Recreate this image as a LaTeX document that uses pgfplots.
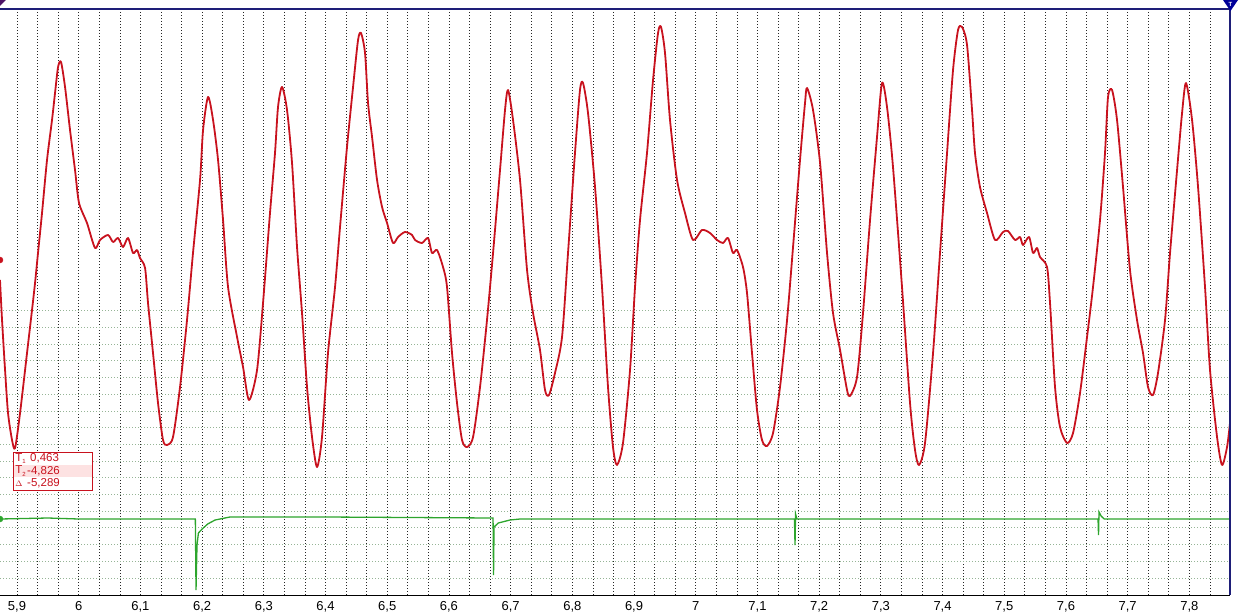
\documentclass[border=0pt]{standalone}
\usepackage{pgfplots}
\pgfplotsset{compat=1.18}
\usepackage{pgfplotstable}
\usepackage{fontspec}
\setmainfont{Liberation Sans}

\definecolor{tracered}{RGB}{200,18,30}
\definecolor{tracegreen}{RGB}{45,165,45}
\definecolor{framenavy}{RGB}{30,30,120}
\definecolor{hgrid}{RGB}{150,180,150}
\definecolor{rowpink}{RGB}{253,226,226}

% red channel: time, screen row (y axis reversed)
\pgfplotstableread{
x y
5.8724 280
5.8757 320
5.8806 370
5.8854 413
5.8919 440
5.8968 448
5.9049 413
5.9162 353
5.9243 310
5.9292 283
5.9340 253
5.9405 213
5.9486 160
5.9567 120
5.9616 93
5.9665 67
5.9713 62
5.9778 87
5.9859 130
5.9940 170
6.0005 203
6.0134 223
6.0264 248
6.0345 240
6.0475 235
6.0556 242
6.0637 238
6.0718 247
6.0799 238
6.0880 253
6.0945 250
6.0993 258
6.1075 268
6.1123 303
6.1204 353
6.1285 403
6.1366 440
6.1431 445
6.1528 437
6.1642 387
6.1755 320
6.1852 253
6.1966 180
6.2015 130
6.2096 97
6.2177 120
6.2258 160
6.2339 220
6.2420 287
6.2566 337
6.2663 367
6.2760 400
6.2890 370
6.2987 303
6.3100 213
6.3181 153
6.3230 107
6.3295 87
6.3376 110
6.3457 163
6.3538 247
6.3619 313
6.3700 387
6.3781 437
6.3862 467
6.3943 437
6.4040 353
6.4154 287
6.4235 227
6.4348 147
6.4446 87
6.4527 40
6.4575 33
6.4640 53
6.4689 103
6.4754 137
6.4835 180
6.4916 207
6.4997 223
6.5094 243
6.5175 237
6.5288 232
6.5402 235
6.5450 240
6.5564 243
6.5661 238
6.5726 253
6.5807 250
6.5904 267
6.5969 287
6.6050 353
6.6131 403
6.6212 440
6.6293 447
6.6391 437
6.6504 387
6.6617 320
6.6715 253
6.6828 170
6.6909 110
6.6958 90
6.7039 120
6.7152 180
6.7266 270
6.7363 313
6.7476 350
6.7557 390
6.7622 395
6.7719 373
6.7833 337
6.7930 253
6.8043 153
6.8124 90
6.8173 83
6.8254 113
6.8368 187
6.8481 287
6.8578 387
6.8659 447
6.8724 465
6.8821 443
6.8935 370
6.9016 287
6.9097 220
6.9210 153
6.9308 80
6.9389 33
6.9437 27
6.9502 53
6.9583 120
6.9697 180
6.9826 213
6.9956 240
7.0102 230
7.0231 233
7.0345 240
7.0442 243
7.0523 238
7.0604 253
7.0669 250
7.0766 267
7.0831 293
7.0912 353
7.0993 410
7.1074 440
7.1155 446
7.1253 433
7.1366 387
7.1480 320
7.1577 247
7.1690 160
7.1771 103
7.1804 88
7.1901 110
7.2015 163
7.2128 253
7.2225 313
7.2339 350
7.2452 390
7.2501 396
7.2614 377
7.2711 313
7.2825 220
7.2938 137
7.3019 83
7.3100 107
7.3197 167
7.3343 287
7.3473 403
7.3554 450
7.3619 465
7.3716 443
7.3846 353
7.3959 253
7.4073 153
7.4170 70
7.4251 30
7.4316 27
7.4397 45
7.4478 110
7.4526 153
7.4607 187
7.4721 213
7.4851 240
7.4980 232
7.5061 231
7.5175 240
7.5256 237
7.5305 245
7.5402 237
7.5467 253
7.5531 248
7.5580 257
7.5693 267
7.5742 303
7.5823 387
7.5904 427
7.6018 443
7.6115 433
7.6228 393
7.6342 337
7.6439 287
7.6552 220
7.6633 153
7.6682 97
7.6747 90
7.6828 120
7.6925 187
7.7038 270
7.7152 320
7.7249 353
7.7330 387
7.7411 395
7.7492 373
7.7606 320
7.7687 253
7.7801 170
7.7882 113
7.7946 83
7.8044 120
7.8141 187
7.8254 287
7.8335 370
7.8449 437
7.8530 465
7.8611 447
7.8659 423
}\redtrace

% green channel
\pgfplotstableread{
x y
5.8724 519
5.9500 518
6.0000 519
6.0700 519
6.1890 519
6.1901 590
6.1917 545
6.1940 533
6.2000 529
6.2090 524
6.2210 520
6.2450 517
6.4000 517
6.6700 518
6.6715 518
6.6723 575
6.6731 527
6.6800 523
6.6990 520
6.7152 519
7.1600 519
7.1609 545
7.1618 514
7.1640 519
7.6520 519
7.6528 535
7.6536 512
7.6570 516
7.6620 519
7.8659 519
}\greentrace

\begin{document}
\begin{tikzpicture}
\useasboundingbox (0,0) rectangle (1239pt,613pt);
\begin{axis}[
    at={(0pt,18pt)}, anchor=south west,
    scale only axis,
    width=1230pt, height=586pt,
    xmin=5.8724, xmax=7.8659,
    ymin=9, ymax=595,
    y dir=reverse,
    clip=false,
    axis line style={draw=none},
    tick style={draw=none},
    xtick={5.9,6.0,6.1,6.2,6.3,6.4,6.5,6.6,6.7,6.8,6.9,7.0,7.1,7.2,7.3,7.4,7.5,7.6,7.7,7.8},
    minor xtick={5.9333,5.9667,6.0333,6.0667,6.1333,6.1667,6.2333,6.2667,6.3333,6.3667,
                 6.4333,6.4667,6.5333,6.5667,6.6333,6.6667,6.7333,6.7667,6.8333,6.8667,
                 6.9333,6.9667,7.0333,7.0667,7.1333,7.1667,7.2333,7.2667,7.3333,7.3667,
                 7.4333,7.4667,7.5333,7.5667,7.6333,7.6667,7.7333,7.7667,7.8333},
    ytick={310.7,327.4,344.1,360.8,377.5,394.2,410.9,427.6,444.3,461,477.7,494.4,511.1,527.8,544.5,561.2,577.9},
    yticklabels={},
    xmajorgrids, xminorgrids, ymajorgrids,
    x grid style={black!85, line width=0.75pt, dash pattern=on 1pt off 2pt},
    y grid style={hgrid, line width=0.75pt, dash pattern=on 1pt off 2pt},
    /pgf/number format/use comma,
    /pgf/number format/assume math mode=true,
    xticklabel style={font=\fontsize{13}{14}\selectfont, yshift=-3pt},
]
\addplot[tracegreen, line width=1.3pt] table[x=x, y=y] {\greentrace};
\addplot[tracered, line width=1.8pt, line join=round, smooth, tension=0.45] table[x=x, y=y] {\redtrace};

% channel level markers
\addplot[only marks, mark=*, mark size=3pt, tracered] coordinates {(5.8724,260)};
\addplot[only marks, mark=*, mark size=3pt, tracegreen] coordinates {(5.8724,519)};

% frame
\draw[framenavy, line width=1.2pt] (axis cs:5.8724,9) -- (axis cs:7.8659,9) -- (axis cs:7.8659,595);
\draw[black, line width=1pt] (axis cs:5.8724,595) -- (axis cs:7.8659,595);

% cursor readout box
\fill[white] (axis cs:5.8935,452) rectangle (axis cs:6.0216,490);
\fill[rowpink] (axis cs:5.8935,464.7) rectangle (axis cs:6.0216,477.3);
\draw[tracered, line width=0.8pt] (axis cs:5.8935,452) rectangle (axis cs:6.0216,490);
\begin{scope}[every node/.style={font=\fontsize{11.5}{12}\selectfont, text=tracered, inner sep=0pt, anchor=west}]
\node at (axis cs:5.8968,458.3) {T\raisebox{-0.4ex}{\fontsize{6}{6}\selectfont 1}};
\node at (axis cs:5.8968,471) {T\raisebox{-0.4ex}{\fontsize{6}{6}\selectfont 2}};
\node at (axis cs:5.8968,483.6) {$\scriptstyle\Delta$};
\node at (axis cs:5.9211,458.3) {0,463};
\node at (axis cs:5.9162,471) {-4,826};
\node at (axis cs:5.9162,483.6) {-5,289};
\end{scope}
\end{axis}
% trigger / position markers at top
\fill[framenavy!70!purple] (0pt,613pt) -- (6pt,613pt) -- (0pt,607pt) -- cycle;
\fill[blue!60!black] (1223pt,613pt) -- (1238pt,613pt) -- (1230.5pt,602pt) -- cycle;
\node[text=white, font=\fontsize{6}{6}\selectfont\bfseries, inner sep=0pt] at (1230.5pt,609pt) {T};
\end{tikzpicture}
\end{document}
